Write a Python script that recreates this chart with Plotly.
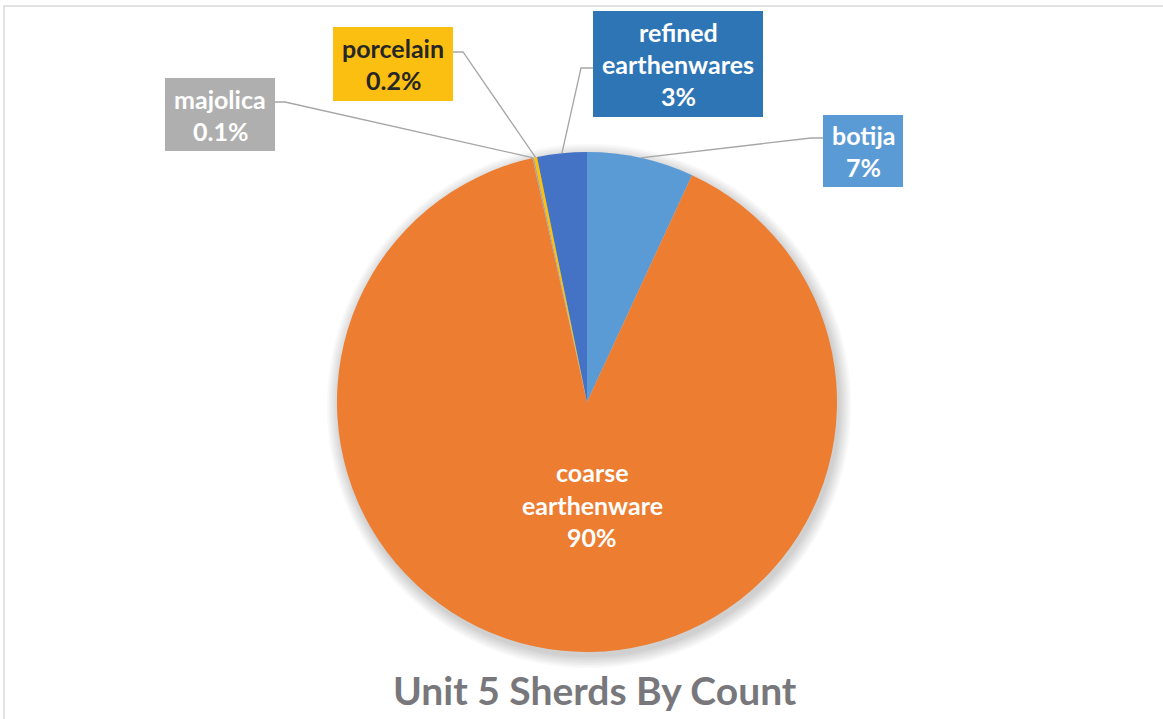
import math
import plotly.graph_objects as go

# Unit 5 sherd counts, expressed as share of total (%)
categories = ["botija", "coarse earthenware", "majolica", "porcelain", "refined earthenwares"]
shares = [6.9, 89.6, 0.1, 0.2, 3.2]
slice_colors = ["#5B9BD5", "#ED7D31", "#A5A5A5", "#FFC000", "#4472C4"]
title_text = "Unit 5 Sherds By Count"

W, H = 1163, 719
CX, CY, R = 587, 402, 250  # pie centre and radius in pixels


def px(x):
    return x / W


def py(y):
    return 1 - y / H


def pct_label(v):
    return f"{v:.1f}%" if v < 1 else f"{round(v):.0f}%"


total = sum(shares)
# mid-angle point of each slice on the rim (clockwise from 12 o'clock)
rim = []
acc = 0.0
for v in shares:
    mid = (acc + v / 2) / total * 2 * math.pi
    rim.append((CX + R * math.sin(mid), CY - R * math.cos(mid)))
    acc += v

fig = go.Figure()
fig.add_trace(go.Pie(
    labels=categories,
    values=shares,
    sort=False,
    direction="clockwise",
    rotation=0,
    marker=dict(colors=slice_colors, line=dict(width=0)),
    textinfo="none",
    hoverinfo="label+percent",
    showlegend=False,
    domain=dict(x=[px(CX - R), px(CX + R)], y=[py(CY + R), py(CY - R)]),
))

shapes = []
# soft drop shadow under the pie
for k in range(8):
    rr = R + 1 + k * 1.6
    sx, sy = CX + 2, CY + 4
    shapes.append(dict(type="circle", xref="paper", yref="paper", layer="below",
                       x0=px(sx - rr), x1=px(sx + rr), y0=py(sy + rr), y1=py(sy - rr),
                       fillcolor="rgba(0,0,0,0.022)", line=dict(width=0)))

# chart frame
shapes.append(dict(type="rect", xref="paper", yref="paper", layer="below",
                   x0=px(4), x1=px(1175), y0=py(730), y1=py(6),
                   line=dict(color="#D9D9D9", width=1.5), fillcolor="rgba(0,0,0,0)"))

# external label boxes: (category index, box x0, y0, x1, y1, box colour, text colour, leader side)
boxes = [
    (0, 823, 115, 903, 187, "#5B9BD5", "white", "left"),
    (4, 593, 11, 763, 117, "#2E75B6", "white", "left"),
    (3, 333, 27, 453, 101, "#FBBF12", "#262626", "right"),
    (2, 165, 78, 275, 151, "#AFAFAF", "white", "right"),
]
leader_y = {0: 138, 4: 68, 3: 52, 2: 102}

annotations = []
font_family = "Lato, 'Open Sans', sans-serif"
for idx, x0, y0, x1, y1, bg, fg, side in boxes:
    shapes.append(dict(type="rect", xref="paper", yref="paper",
                       x0=px(x0), x1=px(x1), y0=py(y1), y1=py(y0),
                       fillcolor=bg, line=dict(width=0)))
    ly = leader_y[idx]
    if side == "left":
        sx, kx = x0, x0 - 12
    else:
        sx, kx = x1, x1 + 10
    ex, ey = rim[idx]
    shapes.append(dict(type="path", xref="paper", yref="paper",
                       path=f"M {px(sx)},{py(ly)} L {px(kx)},{py(ly)} L {px(ex)},{py(ey)}",
                       line=dict(color="#A6A6A6", width=1.3)))
    words = categories[idx].split(" ")
    lines = words + [pct_label(shares[idx])]
    step = 32
    cy = (y0 + y1) / 2
    start = cy - step * (len(lines) - 1) / 2
    for j, t in enumerate(lines):
        annotations.append(dict(x=px((x0 + x1) / 2), y=py(start + j * step),
                                xref="paper", yref="paper", text=t, showarrow=False,
                                xanchor="center", yanchor="middle",
                                font=dict(family=font_family, size=25, color=fg, weight="bold")))

# label inside the large slice
inner = ["coarse", "earthenware", pct_label(shares[1])]
for j, t in enumerate(inner):
    annotations.append(dict(x=px(592), y=py(472 + j * 32.5), xref="paper", yref="paper",
                            text=t, showarrow=False, xanchor="center", yanchor="middle",
                            font=dict(family=font_family, size=25, color="white", weight="bold")))

# chart title beneath the pie
annotations.append(dict(x=px(595), y=py(690), xref="paper", yref="paper", text=title_text,
                        showarrow=False, xanchor="center", yanchor="middle",
                        font=dict(family=font_family, size=39, color="#78787C", weight="bold")))

fig.update_layout(
    width=W, height=H,
    margin=dict(l=0, r=0, t=0, b=0),
    paper_bgcolor="white",
    plot_bgcolor="white",
    shapes=shapes,
    annotations=annotations,
)

fig.write_html("out.html")
